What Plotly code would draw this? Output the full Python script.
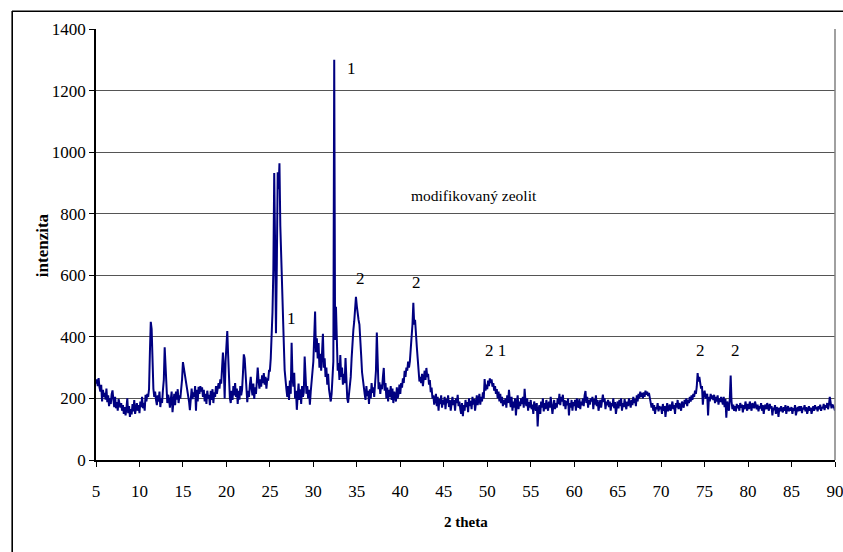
import numpy as np
import plotly.graph_objects as go

# 2-theta grid: 5.0 .. 90.0 step 0.1
theta_start = 5.0
theta_step = 0.1

# intensity, one row per degree (n.0 .. n.9)
intensity = [
    248, 262, 240, 266, 236, 222, 244, 190, 228, 205,   # 5
    218, 196, 232, 188, 210, 175, 200, 182, 214, 226,   # 6
    195, 172, 205, 168, 188, 160, 198, 176, 170, 185,   # 7
    160, 178, 150, 172, 145, 168, 200, 152, 175, 140,   # 8
    165, 148, 182, 158, 195, 150, 170, 185, 160, 178,   # 9
    152, 190, 172, 205, 168, 186, 160, 212, 190, 215,   # 10
    205, 230, 350, 449, 425, 300, 232, 205, 222, 195,   # 11
    178, 210, 190, 222, 172, 200, 185, 228, 260, 366,   # 12
    300, 228, 185, 212, 198, 170, 205, 222, 155, 190,   # 13
    215, 178, 222, 196, 230, 185, 210, 200, 228, 262,   # 14
    318, 300, 292, 270, 255, 232, 212, 190, 162, 215,   # 15
    232, 198, 220, 205, 240, 160, 228, 190, 238, 215,   # 16
    240, 222, 236, 205, 228, 190, 215, 182, 225, 200,   # 17
    212, 178, 225, 195, 230, 185, 220, 205, 240, 215,   # 18
    228, 250, 232, 262, 248, 300, 349, 295, 200, 320,   # 19
    400, 419, 340, 250, 200, 185, 225, 195, 240, 210,   # 20
    250, 205, 232, 182, 225, 196, 240, 210, 228, 280,   # 21
    343, 330, 272, 220, 188, 225, 205, 245, 270, 230,   # 22
    210, 248, 198, 236, 215, 255, 300, 258, 232, 262,   # 23
    238, 275, 250, 282, 245, 270, 232, 265, 258, 290,   # 24
    290, 330, 400, 480, 620, 932, 700, 412, 640, 935,   # 25
    880, 964, 760, 640, 605, 480, 380, 292, 250, 230,   # 26
    205, 240, 195, 258, 215, 381, 270, 238, 283, 200,   # 27
    225, 163, 210, 248, 195, 230, 182, 240, 205, 220,   # 28
    336, 252, 215, 240, 200, 228, 180, 222, 260, 300,   # 29
    320, 400, 482, 350, 395, 330, 380, 300, 345, 290,   # 30
    360, 410, 300, 330, 270, 300, 245, 280, 230, 210,   # 31
    190, 215, 260, 320, 1300, 390, 498, 330, 290, 315,  # 32
    260, 341, 270, 300, 245, 280, 250, 331, 260, 200,   # 33
    186, 215, 240, 270, 330, 390, 422, 450, 480, 530,   # 34
    500, 470, 455, 440, 400, 340, 285, 255, 230, 215,   # 35
    195, 240, 208, 225, 182, 230, 200, 250, 218, 236,   # 36
    205, 250, 290, 414, 260, 230, 252, 215, 245, 230,   # 37
    270, 299, 225, 250, 200, 235, 190, 228, 205, 240,   # 38
    195, 232, 185, 222, 210, 190, 236, 200, 215, 245,   # 39
    215, 250, 235, 265, 250, 290, 270, 300, 290, 320,   # 40
    300, 320, 360, 392, 440, 511, 440, 455, 390, 368,   # 41
    330, 290, 255, 270, 250, 280, 240, 265, 290, 260,   # 42
    299, 270, 280, 245, 260, 220, 235, 200, 210, 180,   # 43
    195, 215, 175, 205, 160, 198, 182, 210, 170, 195,   # 44
    180, 205, 165, 198, 185, 210, 172, 195, 160, 188,   # 45
    205, 178, 195, 160, 200, 185, 212, 175, 190, 165,   # 46
    150, 185, 142, 178, 160, 195, 172, 188, 155, 200,   # 47
    175, 192, 165, 205, 180, 198, 160, 185, 210, 178,   # 48
    195, 215, 180, 205, 190, 220, 200, 263, 225, 245,   # 49
    230, 258, 240, 265, 250, 262, 238, 250, 225, 240,   # 50
    215, 230, 200, 222, 190, 215, 185, 205, 175, 195,   # 51
    180, 200, 170, 210, 185, 228, 195, 172, 205, 160,   # 52
    190, 170, 200, 145, 185, 210, 165, 190, 175, 200,   # 53
    182, 205, 170, 231, 190, 175, 200, 160, 188, 170,   # 54
    195, 165, 180, 150, 190, 172, 160, 185, 109, 165,   # 55
    178, 150, 190, 170, 200, 158, 185, 165, 195, 175,   # 56
    160, 190, 170, 205, 182, 150, 175, 195, 165, 185,   # 57
    170, 200, 182, 215, 178, 205, 190, 212, 175, 195,   # 58
    165, 192, 178, 200, 145, 185, 170, 195, 160, 188,   # 59
    175, 195, 160, 200, 182, 170, 198, 165, 190, 178,   # 60
    200, 175, 210, 224, 185, 205, 170, 195, 180, 200,   # 61
    190, 205, 165, 198, 180, 210, 175, 195, 160, 185,   # 62
    195, 170, 205, 212, 188, 200, 165, 190, 178, 195,   # 63
    172, 190, 160, 185, 175, 200, 168, 188, 150, 180,   # 64
    190, 168, 195, 175, 200, 160, 185, 172, 198, 180,   # 65
    165, 190, 175, 200, 182, 170, 195, 178, 205, 185,   # 66
    198, 175, 210, 190, 215, 200, 222, 205, 218, 200,   # 67
    220, 205, 225, 212, 222, 208, 218, 200, 190, 170,   # 68
    185, 160, 178, 150, 172, 165, 185, 158, 175, 168,   # 69
    170, 150, 182, 160, 175, 140, 168, 185, 158, 175,   # 70
    180, 160, 172, 190, 165, 178, 150, 185, 170, 195,   # 71
    165, 185, 175, 160, 190, 178, 170, 195, 182, 200,   # 72
    175, 195, 185, 205, 190, 210, 195, 215, 205, 225,   # 73
    215, 238, 282, 255, 270, 250, 232, 240, 180, 215,   # 74
    225, 205, 200, 215, 145, 205, 190, 215, 198, 210,   # 75
    195, 212, 185, 205, 190, 210, 180, 200, 188, 205,   # 76
    195, 180, 205, 172, 198, 137, 190, 175, 160, 200,   # 77
    274, 190, 165, 180, 160, 175, 158, 182, 168, 178,   # 78
    160, 185, 170, 180, 155, 178, 165, 190, 172, 160,   # 79
    182, 165, 190, 172, 160, 185, 175, 168, 190, 172,   # 80
    165, 180, 158, 175, 168, 185, 160, 178, 150, 172,   # 81
    180, 165, 185, 170, 160, 182, 168, 175, 145, 170,   # 82
    162, 178, 150, 172, 165, 140, 170, 158, 175, 162,   # 83
    155, 172, 160, 178, 150, 168, 175, 158, 170, 160,   # 84
    172, 150, 168, 160, 178, 145, 165, 172, 158, 175,   # 85
    160, 175, 152, 170, 165, 178, 158, 172, 150, 168,   # 86
    175, 160, 170, 150, 168, 175, 160, 178, 165, 172,   # 87
    158, 175, 165, 180, 160, 172, 168, 182, 162, 178,   # 88
    170, 185, 165, 178, 205, 190, 168, 180, 175, 170,   # 89
    160,                                                # 90
]

two_theta = np.round(theta_start + theta_step * np.arange(len(intensity)), 2)

x_ticks = list(range(5, 91, 5))
y_ticks = list(range(0, 1401, 200))

label_texts = ["1", "1", "2", "2", "2 1", "2", "2", "modifikovaný zeolit"]
label_x = [34.4, 27.5, 35.4, 41.9, 51.0, 74.5, 78.6, 48.45]
label_y = [1271, 461, 591, 575, 357, 357, 357, 860]

FONT = "Liberation Serif, DejaVu Serif, Times New Roman, serif"

fig = go.Figure()
fig.add_trace(go.Scatter(
    x=two_theta, y=intensity, mode="lines",
    line=dict(color="#000080", width=2),
    showlegend=False, hoverinfo="skip",
))

for t, xv, yv in zip(label_texts, label_x, label_y):
    fig.add_annotation(x=xv, y=yv, text=t, showarrow=False, xref="x", yref="y",
                       xanchor="center", yanchor="middle",
                       font=dict(family=FONT, size=17 if t != "modifikovaný zeolit" else 15.5,
                                 color="black"))

# axis titles
fig.add_annotation(x=-0.073, y=0.4985, xref="paper", yref="paper", text="<b>intenzita</b>",
                   textangle=-90, showarrow=False, xanchor="center", yanchor="middle",
                   font=dict(family=FONT, size=17, color="black"))
fig.add_annotation(x=0.5007, y=-0.145, xref="paper", yref="paper", text="<b>2 theta</b>",
                   showarrow=False, xanchor="center", yanchor="middle",
                   font=dict(family=FONT, size=15, color="black"))

# chart frame: left and top edges (box anchored at the frame's top-left corner)
PW, PH = 739.0, 431.0
fx0 = (12 - 96) / PW
fy1 = (460 - 11) / PH
fig.add_annotation(x=fx0, y=fy1, xref="paper", yref="paper", text=" ",
                   showarrow=False, xanchor="left", yanchor="top",
                   width=900, height=620, bordercolor="black", borderwidth=1,
                   borderpad=0)
fig.add_shape(type="line", xref="paper", yref="paper", x0=fx0, x1=fx0, y0=-0.3, y1=fy1,
              line=dict(color="black", width=1.2))
fig.add_shape(type="line", xref="paper", yref="paper", x0=fx0, x1=1.2, y0=fy1, y1=fy1,
              line=dict(color="black", width=1.2))
# grey plot-area border (right)
fig.add_shape(type="line", xref="paper", yref="paper", x0=1, x1=1, y0=0, y1=1,
              line=dict(color="#808080", width=1.5))

fig.update_layout(
    width=843, height=552,
    margin=dict(l=96, r=8, t=29, b=92, autoexpand=False),
    paper_bgcolor="white", plot_bgcolor="white",
    font=dict(family=FONT, size=16, color="black"),
    xaxis=dict(range=[5, 90], tickvals=x_ticks, ticks="outside", ticklen=5,
               tickcolor="black", showline=True, linecolor="black", linewidth=1.5,
               showgrid=False, zeroline=False, ticklabelstandoff=10,
               ticklabeloverflow="allow",
               tickfont=dict(family=FONT, size=17, color="black")),
    yaxis=dict(range=[0, 1400], tickvals=y_ticks, ticks="outside", ticklen=5,
               tickcolor="black", showline=True, linecolor="black", linewidth=1.5,
               showgrid=True, gridcolor="#555555", gridwidth=1, zeroline=False,
               tickfont=dict(family=FONT, size=17, color="black")),
)

fig.write_html("out.html")
